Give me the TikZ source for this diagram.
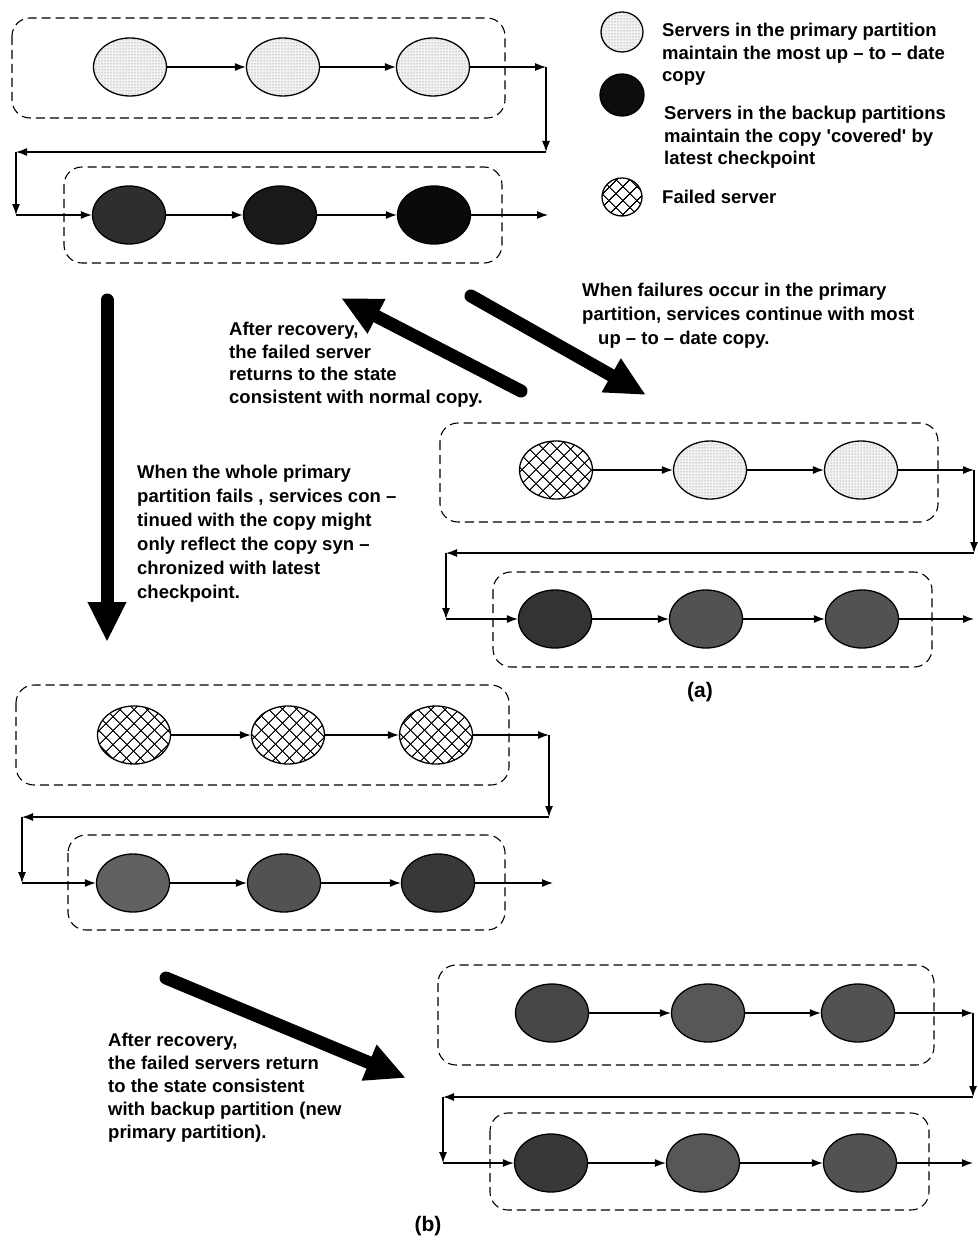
\documentclass[tikz,border=0pt]{standalone}
\usepackage{fontspec}
\setmainfont{Liberation Sans}
\usetikzlibrary{arrows.meta,shapes.geometric,patterns,patterns.meta}

\begin{document}
\begin{tikzpicture}[x=1pt,y=-1pt,
  txt/.style={font=\bfseries\fontsize{18.5}{#1}\selectfont, align=left, inner sep=0pt},
  txt/.default=22.5,
  srv/.style={ellipse, draw, line width=1.3pt, minimum width=73pt, minimum height=58pt, inner sep=0pt},
  primary/.style={srv, fill=black!5, postaction={pattern=dots, pattern color=black!55}},
  failed/.style={srv, pattern={Lines[angle=45,distance=10.5pt,line width=1.2pt]},
                 postaction={pattern={Lines[angle=-45,distance=10.5pt,line width=1.2pt]}}},
  backup/.style={srv, fill=#1},
  grp/.style={draw, dash pattern=on 9pt off 5pt, line width=1.1pt, rounded corners=18pt},
  link/.style={line width=1.2pt, -{Latex[length=11pt,width=8pt]}},
  big/.style={line width=13pt, line cap=round, -{Triangle[length=40pt,width=36pt]}}
]
\useasboundingbox (0,0) rectangle (977,1252);

% ---------- legend ----------
\node[primary, minimum width=42pt, minimum height=40pt] (lg1) at (622,32) {};
\node[backup=black!95, minimum width=44pt, minimum height=42pt] (lg2) at (622,95) {};
\node[failed, minimum width=40pt, minimum height=38pt] (lg3) at (622,197) {};
\node[txt, anchor=north west] (lt1) at (662,23)
  {Servers in the primary partition\\maintain the most up -- to -- date\\copy};
\node[txt, anchor=north west] (lt2) at (664,106)
  {Servers in the backup partitions\\maintain the copy \textquotesingle covered\textquotesingle\ by\\latest checkpoint};
\node[txt, anchor=west] (lt3) at (662,197) {Failed server};

% ---------- normal operation (top left) ----------
\draw[grp] (12,18) rectangle (505,118);
\node[primary] (p1) at (130,67) {};
\node[primary] (p2) at (283,67) {};
\node[primary] (p3) at (433,67) {};
\coordinate (pc1) at (546,67);
\coordinate (pc2) at (546,152);
\coordinate (pc3) at (16,152);
\coordinate (pc4) at (16,215);
\draw[grp] (64,167) rectangle (502,263);
\node[backup=black!82] (q1) at (129,215) {};
\node[backup=black!90] (q2) at (280,215) {};
\node[backup=black!96] (q3) at (434,215) {};
\coordinate (pout) at (548,215);
\draw[link] (p1) -- (p2);
\draw[link] (p2) -- (p3);
\draw[link] (p3) -- (pc1);
\draw[link] (pc1) -- (pc2);
\draw[link] (pc2) -- (pc3);
\draw[link] (pc3) -- (pc4);
\draw[link] (pc4) -- (q1);
\draw[link] (q1) -- (q2);
\draw[link] (q2) -- (q3);
\draw[link] (q3) -- (pout);

% ---------- (a) partial failure ----------
\draw[grp] (440,423) rectangle (938,522);
\node[failed] (a1) at (556,470) {};
\node[primary] (a2) at (710,470) {};
\node[primary] (a3) at (861,470) {};
\coordinate (ac1) at (974,470);
\coordinate (ac2) at (974,553);
\coordinate (ac3) at (446,553);
\coordinate (ac4) at (446,619);
\draw[grp] (493,572) rectangle (932,667);
\node[backup=black!80] (b1) at (555,619) {};
\node[backup=black!68] (b2) at (706,619) {};
\node[backup=black!68] (b3) at (862,619) {};
\coordinate (aout) at (974,619);
\draw[link] (a1) -- (a2);
\draw[link] (a2) -- (a3);
\draw[link] (a3) -- (ac1);
\draw[link] (ac1) -- (ac2);
\draw[link] (ac2) -- (ac3);
\draw[link] (ac3) -- (ac4);
\draw[link] (ac4) -- (b1);
\draw[link] (b1) -- (b2);
\draw[link] (b2) -- (b3);
\draw[link] (b3) -- (aout);
\node[font=\bfseries\fontsize{21}{24}\selectfont] (la) at (700,692) {(a)};

% ---------- whole primary partition failed ----------
\draw[grp] (16,685) rectangle (509,785);
\node[failed] (c1) at (134,735) {};
\node[failed] (c2) at (288,735) {};
\node[failed] (c3) at (436,735) {};
\coordinate (cc1) at (549,735);
\coordinate (cc2) at (549,817);
\coordinate (cc3) at (22,817);
\coordinate (cc4) at (22,883);
\draw[grp] (68,835) rectangle (505,930);
\node[backup=black!62] (d1) at (133,883) {};
\node[backup=black!68] (d2) at (284,883) {};
\node[backup=black!78] (d3) at (438,883) {};
\coordinate (cout) at (553,883);
\draw[link] (c1) -- (c2);
\draw[link] (c2) -- (c3);
\draw[link] (c3) -- (cc1);
\draw[link] (cc1) -- (cc2);
\draw[link] (cc2) -- (cc3);
\draw[link] (cc3) -- (cc4);
\draw[link] (cc4) -- (d1);
\draw[link] (d1) -- (d2);
\draw[link] (d2) -- (d3);
\draw[link] (d3) -- (cout);

% ---------- (b) after recovery ----------
\draw[grp] (438,965) rectangle (934,1065);
\node[backup=black!72] (e1) at (552,1013) {};
\node[backup=black!66] (e2) at (708,1013) {};
\node[backup=black!68] (e3) at (858,1013) {};
\coordinate (ec1) at (973,1013);
\coordinate (ec2) at (973,1097);
\coordinate (ec3) at (443,1097);
\coordinate (ec4) at (443,1163);
\draw[grp] (490,1113) rectangle (929,1210);
\node[backup=black!78] (f1) at (551,1163) {};
\node[backup=black!66] (f2) at (703,1163) {};
\node[backup=black!68] (f3) at (860,1163) {};
\coordinate (eout) at (973,1163);
\draw[link] (e1) -- (e2);
\draw[link] (e2) -- (e3);
\draw[link] (e3) -- (ec1);
\draw[link] (ec1) -- (ec2);
\draw[link] (ec2) -- (ec3);
\draw[link] (ec3) -- (ec4);
\draw[link] (ec4) -- (f1);
\draw[link] (f1) -- (f2);
\draw[link] (f2) -- (f3);
\draw[link] (f3) -- (eout);
\node[font=\bfseries\fontsize{21}{24}\selectfont] (lb) at (428,1226) {(b)};

% ---------- transitions ----------
\coordinate (v0) at (107,300);  \coordinate (v1) at (107,642);
\coordinate (u0) at (521,391);  \coordinate (u1) at (341,298);
\coordinate (w0) at (471,296);  \coordinate (w1) at (646,395);
\coordinate (z0) at (166,978);  \coordinate (z1) at (406,1078);
\draw[big] (v0) -- (v1);
\draw[big] (u0) -- (u1);
\draw[big] (w0) -- (w1);
\draw[big] (z0) -- (z1);

\node[txt, anchor=north west] (t1) at (229,322)
  {After recovery,\\the failed server\\returns to the state\\consistent with normal copy.};
\node[txt=24, anchor=north west] (t2) at (582,283)
  {When failures occur in the primary\\partition, services continue with most\\\hspace*{16pt}up -- to -- date copy.};
\node[txt=24, anchor=north west] (t3) at (137,465)
  {When the whole primary\\partition fails , services con --\\tinued with the copy might\\only reflect the copy syn --\\chronized with latest\\checkpoint.};
\node[txt=23, anchor=north west] (t4) at (108,1033)
  {After recovery,\\the failed servers return\\to the state consistent\\with backup partition (new\\primary partition).};
\end{tikzpicture}
\end{document}
